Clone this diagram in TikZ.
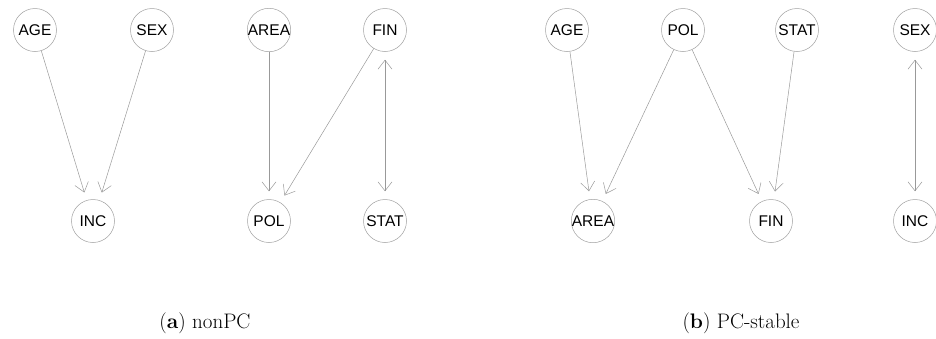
\documentclass[tikz,border=0pt]{standalone}
\usepackage{fontspec}
\newfontfamily\nodefont{Liberation Sans}
\usetikzlibrary{arrows.meta}
\begin{document}
\begin{tikzpicture}[x=1pt,y=-1pt,
  vnode/.style={circle,draw=gray!75,line width=0.5pt,minimum size=43pt,inner sep=0pt,
    font=\nodefont\fontsize{15.5}{17}\selectfont,text=black},
  edge/.style={draw=gray!80,line width=0.5pt,-{Straight Barb[length=9pt,width=14pt]},shorten >=8pt},
  biedge/.style={draw=gray!80,line width=0.5pt,{Straight Barb[length=9pt,width=14pt]}-{Straight Barb[length=9pt,width=14pt]},shorten >=8pt,shorten <=8pt},
  captext/.style={font=\fontsize{21}{24}\selectfont,anchor=center}]
\useasboundingbox (0,0) rectangle (936,338);
% panel (a)
\node[vnode] (aAGE) at (35,30) {AGE};
\node[vnode] (aSEX) at (152,30) {SEX};
\node[vnode] (aAREA) at (269,30) {AREA};
\node[vnode] (aFIN) at (385,30) {FIN};
\node[vnode] (aINC) at (93,221) {INC};
\node[vnode] (aPOL) at (269,221) {POL};
\node[vnode] (aSTAT) at (385,221) {STAT};
\draw[edge] (aAGE) -- (aINC);
\draw[edge] (aSEX) -- (aINC);
\draw[edge] (aAREA) -- (aPOL);
\draw[edge] (aFIN) -- (aPOL);
\draw[biedge] (aFIN) -- (aSTAT);
% panel (b)
\node[vnode] (bAGE) at (567,30) {AGE};
\node[vnode] (bPOL) at (683,30) {POL};
\node[vnode] (bSTAT) at (797,30) {STAT};
\node[vnode] (bSEX) at (915,30) {SEX};
\node[vnode] (bAREA) at (593,221) {AREA};
\node[vnode] (bFIN) at (771,221) {FIN};
\node[vnode] (bINC) at (915,221) {INC};
\draw[edge] (bAGE) -- (bAREA);
\draw[edge] (bPOL) -- (bAREA);
\draw[edge] (bPOL) -- (bFIN);
\draw[edge] (bSTAT) -- (bFIN);
\draw[biedge] (bSEX) -- (bINC);
% captions
\node[captext] (capa) at (205,323) {(\textbf{a}) nonPC};
\node[captext] (capb) at (741,323) {(\textbf{b}) PC-stable};
\end{tikzpicture}
\end{document}
